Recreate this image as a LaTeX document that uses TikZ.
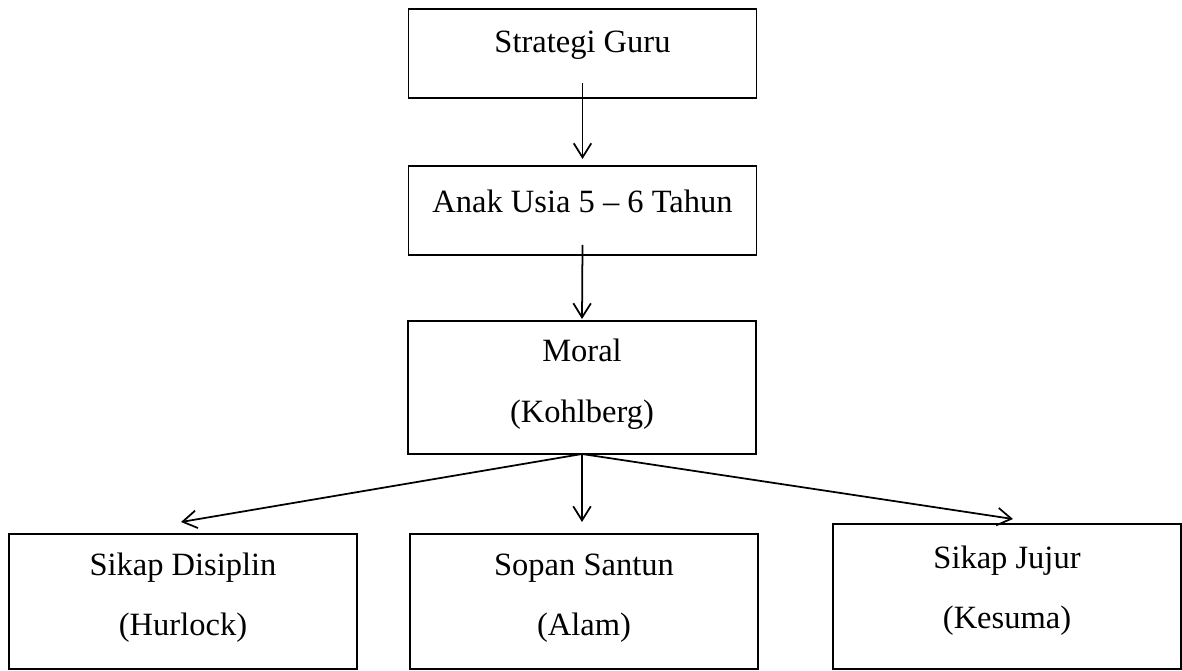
\documentclass[tikz,border=0pt]{standalone}
\usepackage{fontspec}
\setmainfont{Liberation Serif}
\usepackage{tikz}
\usetikzlibrary{arrows.meta,calc}

\begin{document}
\begin{tikzpicture}[x=0.02cm, y=-0.02cm,
    box/.style={draw, line width=1pt, inner sep=0pt, outer sep=0pt,
      minimum width=6.96cm},
    lbl/.style={anchor=base, inner sep=0pt, font=\fontsize{18.5}{22}\selectfont},
    arr/.style={line width=1pt, -{Straight Barb[length=8pt,width=10pt,line width=1pt]}}]
          \useasboundingbox (0, 0) rectangle (1182, 671);

          % Boxes
          \node [box, minimum height=1.78cm] (guru) at (582.5, 53.5) {};
          \node [box, minimum height=1.78cm] (anak) at (582.5, 210.5) {};
          \node [box, minimum height=2.66cm] (moral) at (582, 387.5) {};
          \node [box, minimum height=2.7cm] (disiplin) at (183, 601.5) {};
          \node [box, minimum height=2.7cm] (sopan) at (584, 601.5) {};
          \node [box, minimum height=2.9cm] (jujur) at (1007, 596.5) {};

          % Texts
          \node [lbl] (tguru) at (582.5, 53) {Strategi Guru};
          \node [lbl] (tanak) at (582.5, 213) {Anak Usia 5 -- 6 Tahun};
          \node [lbl] (tmoral) at (582, 362) {Moral};
          \node [lbl] (tkohl) at (582, 423) {(Kohlberg)};
          \node [lbl] (tdisi) at (183, 575) {Sikap Disiplin};
          \node [lbl] (thurl) at (183, 635) {(Hurlock)};
          \node [lbl] (tsopan) at (584, 575) {Sopan Santun};
          \node [lbl] (talam) at (584, 635) {(Alam)};
          \node [lbl] (tjujur) at (1007, 568) {Sikap Jujur};
          \node [lbl] (tkesu) at (1007, 628) {(Kesuma)};

          % Arrows
          \draw [arr] ($(guru.south)+(0, -15)$) -- ($(anak.north)+(0, -7)$);
          \draw [arr] ($(anak.south)+(0, -10)$) -- ($(moral.north)+(0, -2)$);
          \draw [arr] (moral.south) -- ($(disiplin.north)+(-2, -12)$);
          \draw [arr] (moral.south) -- ($(sopan.north)+(-2, -12)$);
          \draw [arr] (moral.south) -- ($(jujur.north)+(6, -5)$);
        \end{tikzpicture}
\end{document}
